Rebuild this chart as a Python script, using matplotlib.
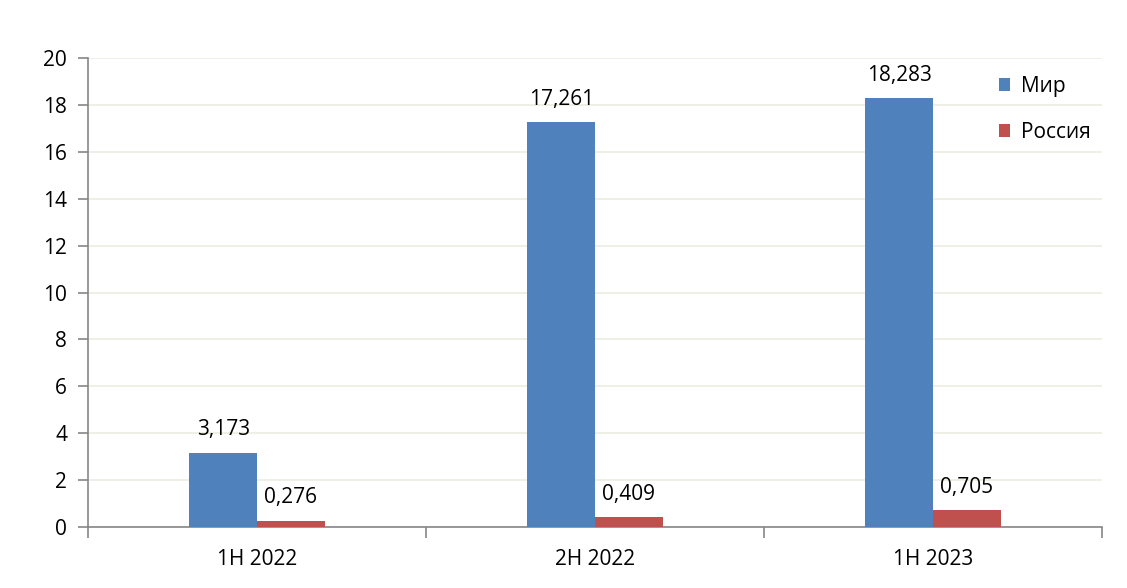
import matplotlib.pyplot as plt
import numpy as np

plt.rcParams['font.family'] = ['Open Sans', 'DejaVu Sans']

categories = ['1H 2022', '2H 2022', '1H 2023']
mir = [3.173, 17.261, 18.283]
russia = [0.276, 0.409, 0.705]
mir_labels = ['3,173', '17,261', '18,283']
russia_labels = ['0,276', '0,409', '0,705']

blue = '#4F81BD'
red = '#C0504D'
axis_gray = '#868686'
fs = 15

fig = plt.figure(figsize=(11.27, 5.88), dpi=100)
ax = fig.add_axes([0.0781, 0.1037, 0.8997, 0.7977])

x = np.arange(len(categories))
w = 0.2
b1 = ax.bar(x - w / 2, mir, w, color=blue, label='Мир', zorder=3)
b2 = ax.bar(x + w / 2, russia, w, color=red, label='Россия', zorder=3)

for rect, lab in zip(b1, mir_labels):
    ax.annotate(lab, (rect.get_x() + rect.get_width() / 2, rect.get_height()),
                xytext=(0, 9), textcoords='offset points', ha='center', va='bottom', fontsize=fs)
for rect, lab in zip(b2, russia_labels):
    ax.annotate(lab, (rect.get_x() + rect.get_width() / 2, rect.get_height()),
                xytext=(0, 9), textcoords='offset points', ha='center', va='bottom', fontsize=fs)

ax.set_xlim(-0.5, 2.5)
ax.set_ylim(0, 20)
ax.set_yticks(np.arange(0, 21, 2))
ax.yaxis.grid(True, color='#EEECE1', linewidth=1.2, zorder=0)
ax.set_axisbelow(True)

# category labels in the middle, tick marks on boundaries
ax.set_xticks(x)
ax.set_xticklabels(categories, fontsize=fs)
ax.tick_params(axis='x', length=0, pad=16)
ax.set_xticks(np.arange(-0.5, 2.6, 1), minor=True)
ax.tick_params(axis='x', which='minor', length=8, color=axis_gray, width=1.2)
ax.tick_params(axis='y', length=7, color=axis_gray, width=1.2, labelsize=fs, pad=8)

for s in ['top', 'right']:
    ax.spines[s].set_visible(False)
for s in ['left', 'bottom']:
    ax.spines[s].set_color(axis_gray)
    ax.spines[s].set_linewidth(1.2)

ax.legend(loc='upper left', bbox_to_anchor=(0.89, 0.98), frameon=False, fontsize=fs,
          handlelength=0.55, handleheight=0.55, handletextpad=0.5, labelspacing=1.2,
          borderaxespad=0)

fig.savefig('out.png', dpi=100)
